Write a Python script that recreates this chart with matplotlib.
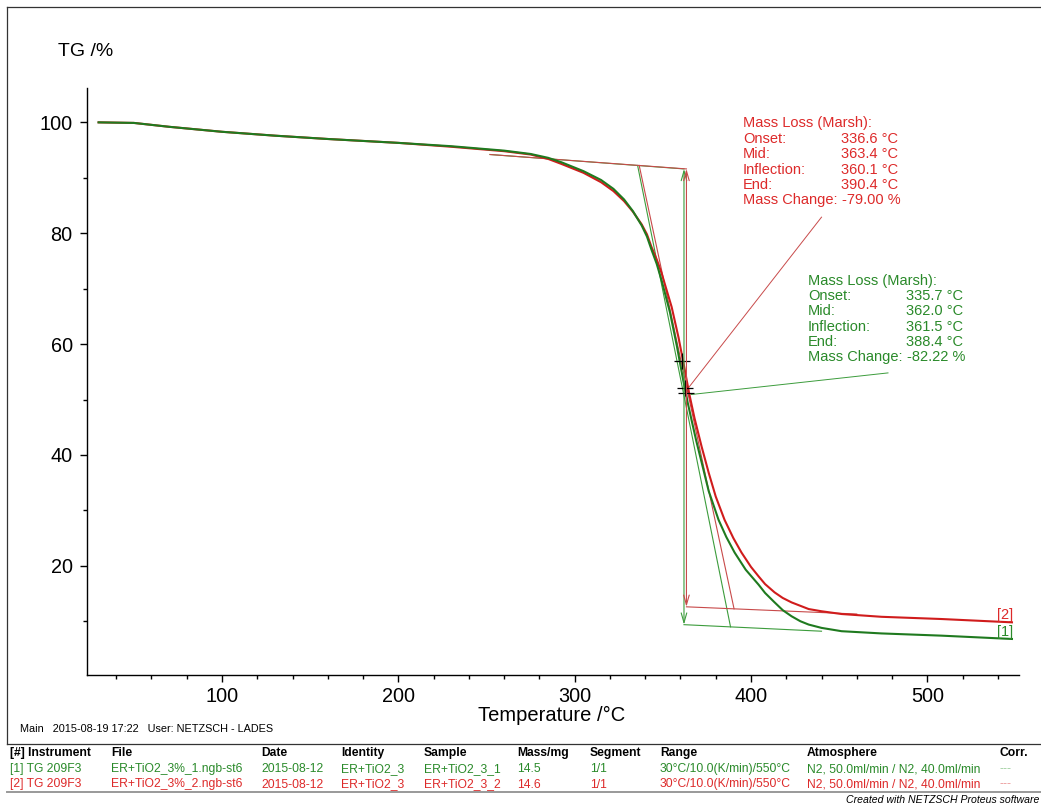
import numpy as np
import matplotlib
matplotlib.use('Agg')
import matplotlib.pyplot as plt
from matplotlib.lines import Line2D
from matplotlib.ticker import MultipleLocator

# TG curves: [1] green, [2] red
temp_1 = [30, 50, 70, 100, 130, 160, 200, 230, 260, 275, 285, 292.5, 305, 315, 322, 328, 333, 338, 341,
          343.6, 346.5, 349.3, 354, 358, 361.5, 364, 366.5, 369, 371.9, 376, 381.6, 386, 390.7, 397,
          404.3, 408, 413.4, 418, 423, 428, 432.7, 440, 451.4, 474, 508, 548]
tg_1 = [100.0, 99.9, 99.2, 98.3, 97.6, 97.0, 96.3, 95.7, 94.9, 94.3, 93.6, 92.8, 91.2, 89.6, 88.0, 86.1, 84.0, 81.4, 79.4,
        77.0, 74.5, 71.5, 65.8, 59.6, 53.6, 49.6, 46.0, 42.5, 38.8, 33.5, 28.3, 25.2, 22.4, 19.3,
        16.6, 15.1, 13.4, 12.0, 10.9, 10.0, 9.4, 8.8, 8.2, 7.8, 7.4, 6.8]

temp_2 = [30, 50, 70, 100, 130, 160, 200, 230, 260, 275, 285, 292.5, 305, 315, 322, 328, 333, 338, 341,
          343.6, 346.5, 349.3, 355, 358.9, 362.3, 365, 368, 372, 376, 380, 385, 390, 394.6, 400,
          404.3, 408, 413.4, 418, 423, 432.7, 440, 451.4, 474, 508, 548]
tg_2 = [100.0, 99.9, 99.2, 98.3, 97.6, 97.0, 96.3, 95.6, 94.8, 94.2, 93.4, 92.5, 90.9, 89.2, 87.6, 85.8, 83.9, 81.6, 79.8,
        77.5, 75.3, 72.8, 66.7, 61.2, 55.6, 51.0, 46.6, 41.5, 36.8, 32.5, 28.3, 25.0, 22.4, 19.8,
        18.1, 16.7, 15.2, 14.2, 13.4, 12.2, 11.8, 11.3, 10.8, 10.4, 9.8]

# Marsh evaluation results, index 0 -> [1], index 1 -> [2]
onset = [335.7, 336.6]
mid = [362.0, 363.4]
inflection = [361.5, 360.1]
end = [388.4, 390.4]
mass_change = [-82.22, -79.00]
step_top = [91.6, 91.6]
base_top_start = [252, 94.2]          # x, y where upper tangent starts
base_low_end = [[440, 8.2], [460, 11.3]]
leader_from = [[366.0, 50.9], [365.0, 52.3]]
leader_to = [[477.7, 54.8], [440.0, 82.9]]
text_pos = [[432.3, 71.46], [395.4, 99.8]]
cross_x = [361.0, 362.3, 363.2]
cross_y = [57.0, 52.1, 51.2]

row_labels = ["Mass Loss (Marsh):", "Onset:", "Mid:", "Inflection:", "End:", "Mass Change:"]

table_head = ["[#] Instrument", "File", "Date", "Identity", "Sample", "Mass/mg", "Segment", "Range", "Atmosphere", "Corr."]
table_rows = [
    ["[1] TG 209F3", "ER+TiO2_3%_1.ngb-st6", "2015-08-12", "ER+TiO2_3", "ER+TiO2_3_1", "14.5", "1/1",
     "30°C/10.0(K/min)/550°C", "N2, 50.0ml/min / N2, 40.0ml/min", "---"],
    ["[2] TG 209F3", "ER+TiO2_3%_2.ngb-st6", "2015-08-12", "ER+TiO2_3", "ER+TiO2_3_2", "14.6", "1/1",
     "30°C/10.0(K/min)/550°C", "N2, 50.0ml/min / N2, 40.0ml/min", "---"],
]
col_x = [10, 111, 261, 341, 424, 517, 590, 660, 807, 1000]

green = '#1f7a1f'
red = '#d01c1c'
green_txt = '#2a8a2a'
red_txt = '#dd2a2a'
green_thin = '#3c9c3c'
red_thin = '#c84a4a'

plt.rcParams['font.family'] = ['Liberation Sans', 'DejaVu Sans']

W, H = 1041, 807
fig = plt.figure(figsize=(W / 100, H / 100), dpi=100)
ax = fig.add_axes([87.3 / W, 1 - 675 / H, (1019 - 87.3) / W, (675 - 88) / H])

for i, (t, g, c, ct) in enumerate([(temp_1, tg_1, green, green_thin), (temp_2, tg_2, red, red_thin)]):
    # upper baseline and vertical step arrow
    top = step_top[i]
    low = top + mass_change[i]
    slope_top = (top - base_top_start[1]) / (mid[i] - base_top_start[0])
    ax.plot([base_top_start[0], mid[i]], [base_top_start[1], top], color=ct, lw=0.8)
    ax.annotate('', xy=(mid[i], low), xytext=(mid[i], top),
                arrowprops=dict(arrowstyle='<->,head_length=0.7,head_width=0.2', color=ct, lw=0.8,
                                shrinkA=0, shrinkB=0))
    # lower baseline
    bx, by = base_low_end[i]
    slope_low = (by - low) / (bx - mid[i])
    ax.plot([mid[i], bx], [low, by], color=ct, lw=0.8)
    # tangent from onset to end
    y_on = top + slope_top * (onset[i] - mid[i])
    y_end = low + slope_low * (end[i] - mid[i])
    ax.plot([onset[i], end[i]], [y_on, y_end], color=ct, lw=0.8)
    # leader line
    ax.plot([leader_from[i][0], leader_to[i][0]], [leader_from[i][1], leader_to[i][1]], color=ct, lw=0.7)

ax.plot(temp_2, tg_2, color=red, lw=1.5)
ax.plot(temp_1, tg_1, color=green, lw=1.5)

ax.plot(cross_x, cross_y, '+', color='black', ms=11, mew=0.9)

# result texts
dy = 15.4 / 5.55
for i, col in enumerate([green_txt, red_txt]):
    x0, y0 = text_pos[i]
    vals = ["", f"{onset[i]:.1f} °C", f"{mid[i]:.1f} °C", f"{inflection[i]:.1f} °C",
            f"{end[i]:.1f} °C", f"{mass_change[i]:.2f} %"]
    for k, lab in enumerate(row_labels):
        y = y0 - k * dy
        ax.text(x0, y, lab, color=col, fontsize=10.5, va='center', ha='left')
        if vals[k]:
            xv = x0 + 55.5 if k < 5 else x0 + 56.2
            ax.text(xv, y, vals[k], color=col, fontsize=10.5, va='center', ha='left')

ax.text(548.9, tg_2[-1], "[2]", color=red_txt, fontsize=10.5, ha='right', va='bottom')
ax.text(548.9, tg_1[-1], "[1]", color=green_txt, fontsize=10.5, ha='right', va='bottom')

ax.set_xlim(23.6, 552)
ax.set_ylim(0.3, 106.2)
ax.xaxis.set_major_locator(MultipleLocator(100))
ax.xaxis.set_minor_locator(MultipleLocator(20))
ax.yaxis.set_major_locator(MultipleLocator(20))
ax.yaxis.set_minor_locator(MultipleLocator(10))
ax.set_yticks([20, 40, 60, 80, 100])
ax.spines['top'].set_visible(False)
ax.spines['right'].set_visible(False)
for s in ['left', 'bottom']:
    ax.spines[s].set_linewidth(1.0)
ax.tick_params(axis='both', which='major', direction='out', length=5, width=1, labelsize=14.3)
ax.tick_params(axis='both', which='minor', direction='out', length=3, width=1)
ax.tick_params(axis='x', which='major', pad=4)
ax.tick_params(axis='y', which='major', pad=5.5)

ax.set_xlabel("Temperature /°C", fontsize=14.5)
ax.xaxis.set_label_coords(0.4985, -0.052)
fig.text(58 / W, 1 - 52 / H, "TG /%", fontsize=14, va='center', ha='left')


def fx(x):
    return x / W


def fy(y):
    return 1 - y / H


# frame and table lines
fig.add_artist(Line2D([fx(7), fx(7)], [fy(7), fy(744)], color='#333333', lw=0.9))
fig.add_artist(Line2D([fx(7), fx(1041)], [fy(7), fy(7)], color='#333333', lw=0.9))
fig.add_artist(Line2D([fx(7), fx(1041)], [fy(744), fy(744)], color='#333333', lw=0.9))
fig.add_artist(Line2D([fx(7), fx(1041)], [fy(792), fy(792)], color='#999999', lw=1.4))

fig.text(fx(20), fy(729), "Main   2015-08-19 17:22   User: NETZSCH - LADES", fontsize=7.8, va='center')
for j, h in enumerate(table_head):
    fig.text(fx(col_x[j]), fy(753), h, fontsize=8.7, fontweight='bold', va='center')
for r, (row, col, light) in enumerate(zip(table_rows, [green_txt, red_txt], ['#9fcf9f', '#eb9a9a'])):
    for j, v in enumerate(row):
        fig.text(fx(col_x[j]), fy(769 + 15.5 * r), v, fontsize=8.7, va='center',
                 color=light if j == len(row) - 1 else col)
fig.text(fx(1039), fy(800), "Created with NETZSCH Proteus software", fontsize=7.6, style='italic',
         va='center', ha='right')

fig.savefig('out.png', dpi=100)
